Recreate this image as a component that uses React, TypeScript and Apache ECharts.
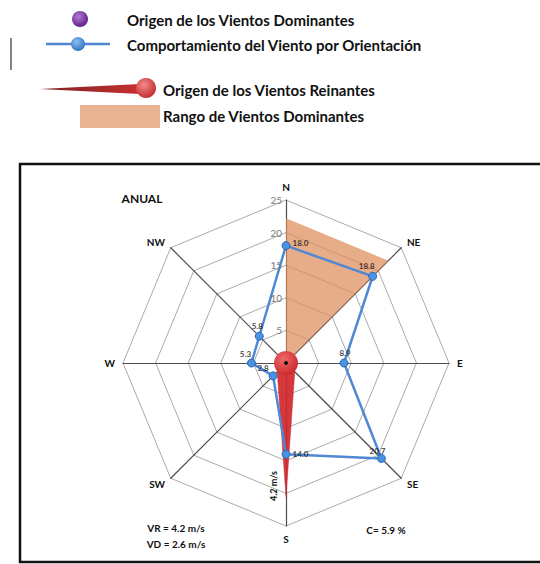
import React, { useEffect, useRef } from "react";
import * as echarts from "echarts";

// ---- data ----
const DIRECTIONS = ["N", "NE", "E", "SE", "S", "SW", "W", "NW"];
const DIRECTION_ANGLES = [0, 45, 90, 135, 180, 225, 270, 315];
const WIND_SPEED = [18.0, 18.8, 8.9, 20.7, 14.0, 2.8, 5.3, 5.8];
const DOMINANT_RANGE = [22.2, 22.2, 0, 0, 0, 0, 0, 0];
const PREVAILING_NEEDLE = [0, 0, 0, 1.9, 20.5, 1.9, 0, 0];
const AXIS_MAX = 25;
const AXIS_SPLITS = 5;
const AXIS_INTERVAL = 5;

const LEGEND_LABELS = [
  "Origen de los Vientos Dominantes",
  "Comportamiento del Viento por Orientación",
  "Origen de los Vientos Reinantes",
  "Rango de Vientos Dominantes",
];
const TITLE = "ANUAL";
const VR_TEXT = "VR = 4.2 m/s";
const VD_TEXT = "VD = 2.6 m/s";
const CALM_TEXT = "C= 5.9 %";
const NEEDLE_TEXT = "4.2 m/s";

// label placement per direction (style only)
const LABEL_STYLE: Record<string, { position: string; offset: [number, number] }> = {
  N: { position: "right", offset: [0, -3] },
  NE: { position: "top", offset: [-6, 0] },
  E: { position: "top", offset: [1, 0] },
  SE: { position: "top", offset: [-4, 3] },
  S: { position: "right", offset: [0, 0] },
  SW: { position: "left", offset: [2, -8] },
  W: { position: "top", offset: [-6, 1] },
  NW: { position: "top", offset: [-2, 0] },
};

const FONT = "Lato, 'Open Sans', sans-serif";
const CENTER = [286, 363];
const RADIUS = 163;

// ECharts radar lays indicators counter-clockwise; reorder from compass (clockwise) order
const CCW = [0, 7, 6, 5, 4, 3, 2, 1];
const toCCW = (arr: number[]) => CCW.map((i) => arr[i]);

export default function App() {
  const ref = useRef<HTMLDivElement>(null);
  useEffect(() => {
    if (!ref.current) return;
    const chart = echarts.init(ref.current, null, { renderer: "svg" });

    const indicator = CCW.map((i) => ({ name: DIRECTIONS[i], min: 0, max: AXIS_MAX }));

    const option: any = {
      animation: false,
      backgroundColor: "#fff",
      polar: { center: CENTER, radius: RADIUS },
      angleAxis: {
        type: "value",
        startAngle: 90,
        clockwise: true,
        min: 0,
        max: 360,
        show: false,
      },
      radiusAxis: {
        type: "value",
        min: 0,
        max: AXIS_MAX,
        interval: AXIS_INTERVAL,
        axisLine: { show: false },
        axisTick: { show: false },
        splitLine: { show: false },
        axisLabel: {
          show: true,
          showMinLabel: false,
          color: "#7a7a7a",
          fontSize: 10,
          fontFamily: FONT,
          margin: 4,
        },
        z: 10,
      },
      radar: {
        center: CENTER,
        radius: RADIUS,
        startAngle: 90,
        shape: "polygon",
        splitNumber: AXIS_SPLITS,
        indicator,
        nameGap: 8,
        axisName: {
          color: "#111",
          fontWeight: "bold",
          fontSize: 10,
          fontFamily: FONT,
        },
        splitLine: { lineStyle: { color: "#ababab", width: 1 } },
        splitArea: { show: false },
        axisLine: { lineStyle: { color: "#4d4d4d", width: 1.2 } },
        axisTick: { show: false },
        axisLabel: { show: false },
      },
      series: [
        {
          type: "radar",
          name: LEGEND_LABELS[3],
          z: 1,
          symbol: "none",
          lineStyle: { width: 0, opacity: 0 },
          areaStyle: { color: "#de8c5a", opacity: 0.72 },
          data: [{ value: toCCW(DOMINANT_RANGE) }],
        },
        {
          type: "radar",
          name: LEGEND_LABELS[2],
          z: 2,
          symbol: "none",
          lineStyle: { width: 0.5, color: "#c8262a" },
          areaStyle: { color: "#d0262b", opacity: 0.92 },
          data: [{ value: toCCW(PREVAILING_NEEDLE) }],
        },
        {
          type: "scatter",
          coordinateSystem: "polar",
          z: 3,
          symbol: "circle",
          symbolSize: 24,
          silent: true,
          itemStyle: {
            opacity: 1,
            color: new echarts.graphic.RadialGradient(0.4, 0.35, 0.7, [
              { offset: 0, color: "#ef6a6a" },
              { offset: 1, color: "#c8262a" },
            ]),
          },
          data: [[0, 0]],
        },
        {
          type: "scatter",
          coordinateSystem: "polar",
          z: 3,
          symbol: "circle",
          symbolSize: 4,
          silent: true,
          itemStyle: { color: "#111", opacity: 1 },
          data: [[0, 0]],
        },
        {
          type: "radar",
          name: LEGEND_LABELS[1],
          z: 4,
          symbol: "circle",
          symbolSize: 8,
          lineStyle: { color: "#5088d4", width: 2.5 },
          itemStyle: { color: "#4a92e4", borderColor: "#2d66b0", borderWidth: 1 },
          data: [{ value: toCCW(WIND_SPEED) }],
        },
        {
          type: "scatter",
          coordinateSystem: "polar",
          z: 5,
          symbol: "circle",
          symbolSize: 7,
          silent: true,
          itemStyle: { color: "rgba(0,0,0,0)" },
          label: {
            show: true,
            distance: 3,
            color: "#111",
            fontSize: 8,
            fontWeight: "bold",
            fontFamily: FONT,
            formatter: (p: any) => Number(p.value[0]).toFixed(1),
          },
          data: DIRECTIONS.map((d, i) => ({
            value: [WIND_SPEED[i], DIRECTION_ANGLES[i]],
            label: {
              position: LABEL_STYLE[d].position,
              offset: LABEL_STYLE[d].offset,
            },
          })),
        },
      ],
      graphic: [
        // chart frame
        {
          type: "rect",
          shape: { x: 20, y: 164, width: 540, height: 398 },
          style: { fill: "none", stroke: "#111", lineWidth: 2.5 },
          z: 0,
        },
        // legend: purple sphere
        {
          type: "circle",
          shape: { cx: 80, cy: 19, r: 8 },
          style: {
            fill: new echarts.graphic.RadialGradient(0.4, 0.35, 0.7, [
              { offset: 0, color: "#b27ad6" },
              { offset: 1, color: "#5a1a86" },
            ]),
          },
        },
        // legend: blue line + sphere
        {
          type: "line",
          shape: { x1: 46, y1: 44, x2: 110, y2: 44 },
          style: { stroke: "#4f86d2", lineWidth: 2.5 },
        },
        {
          type: "circle",
          shape: { cx: 78, cy: 44, r: 7 },
          style: {
            fill: new echarts.graphic.RadialGradient(0.4, 0.35, 0.7, [
              { offset: 0, color: "#8cc0f2" },
              { offset: 1, color: "#2e6fc0" },
            ]),
          },
        },
        // stray vertical mark
        {
          type: "line",
          shape: { x1: 11, y1: 38, x2: 11, y2: 70 },
          style: { stroke: "#333", lineWidth: 1.2 },
        },
        // legend: red needle + sphere
        {
          type: "polygon",
          shape: { points: [[40, 89], [140, 84], [140, 94]] },
          style: {
            fill: new echarts.graphic.LinearGradient(0, 0, 1, 0, [
              { offset: 0, color: "#7a2222" },
              { offset: 1, color: "#c83030" },
            ]),
          },
        },
        {
          type: "circle",
          shape: { cx: 146, cy: 88, r: 10 },
          style: {
            fill: new echarts.graphic.RadialGradient(0.4, 0.35, 0.7, [
              { offset: 0, color: "#f28a8a" },
              { offset: 1, color: "#c0282c" },
            ]),
          },
        },
        // legend: orange box
        {
          type: "rect",
          shape: { x: 80, y: 105, width: 80, height: 23 },
          style: { fill: "#e9b290" },
        },
        ...[
          [127, 20],
          [127, 45],
          [163, 90],
          [163, 116],
        ].map(([x, y], i) => ({
          type: "text",
          x,
          y,
          style: {
            text: LEGEND_LABELS[i],
            fill: "#111",
            font: `bold 15px ${FONT}`,
            textAlign: "left",
            align: "left",
            textVerticalAlign: "middle",
            verticalAlign: "middle",
          },
        })),
        // annotations
        {
          type: "text",
          x: 142,
          y: 198,
          style: {
            text: TITLE,
            fill: "#111",
            font: `bold 12px ${FONT}`,
            textAlign: "center",
            align: "center",
            textVerticalAlign: "middle",
            verticalAlign: "middle",
          },
        },
        ...[
          [176, 528, VR_TEXT],
          [176, 544, VD_TEXT],
          [386, 530, CALM_TEXT],
        ].map(([x, y, t]) => ({
          type: "text",
          x,
          y,
          style: {
            text: t,
            fill: "#111",
            font: `bold 10px ${FONT}`,
            textAlign: "center",
            align: "center",
            textVerticalAlign: "middle",
            verticalAlign: "middle",
          },
        })),
        {
          type: "text",
          x: 273,
          y: 486,
          rotation: Math.PI / 2,
          style: {
            text: NEEDLE_TEXT,
            fill: "#111",
            font: `bold 9px ${FONT}`,
            textAlign: "center",
            align: "center",
            textVerticalAlign: "middle",
            verticalAlign: "middle",
          },
        },
      ],
    };

    chart.setOption(option);
    return () => chart.dispose();
  }, []);

  return (
    <div
      ref={ref}
      style={{ position: "fixed", left: 0, top: 0, width: 540, height: 564 }}
    />
  );
}
